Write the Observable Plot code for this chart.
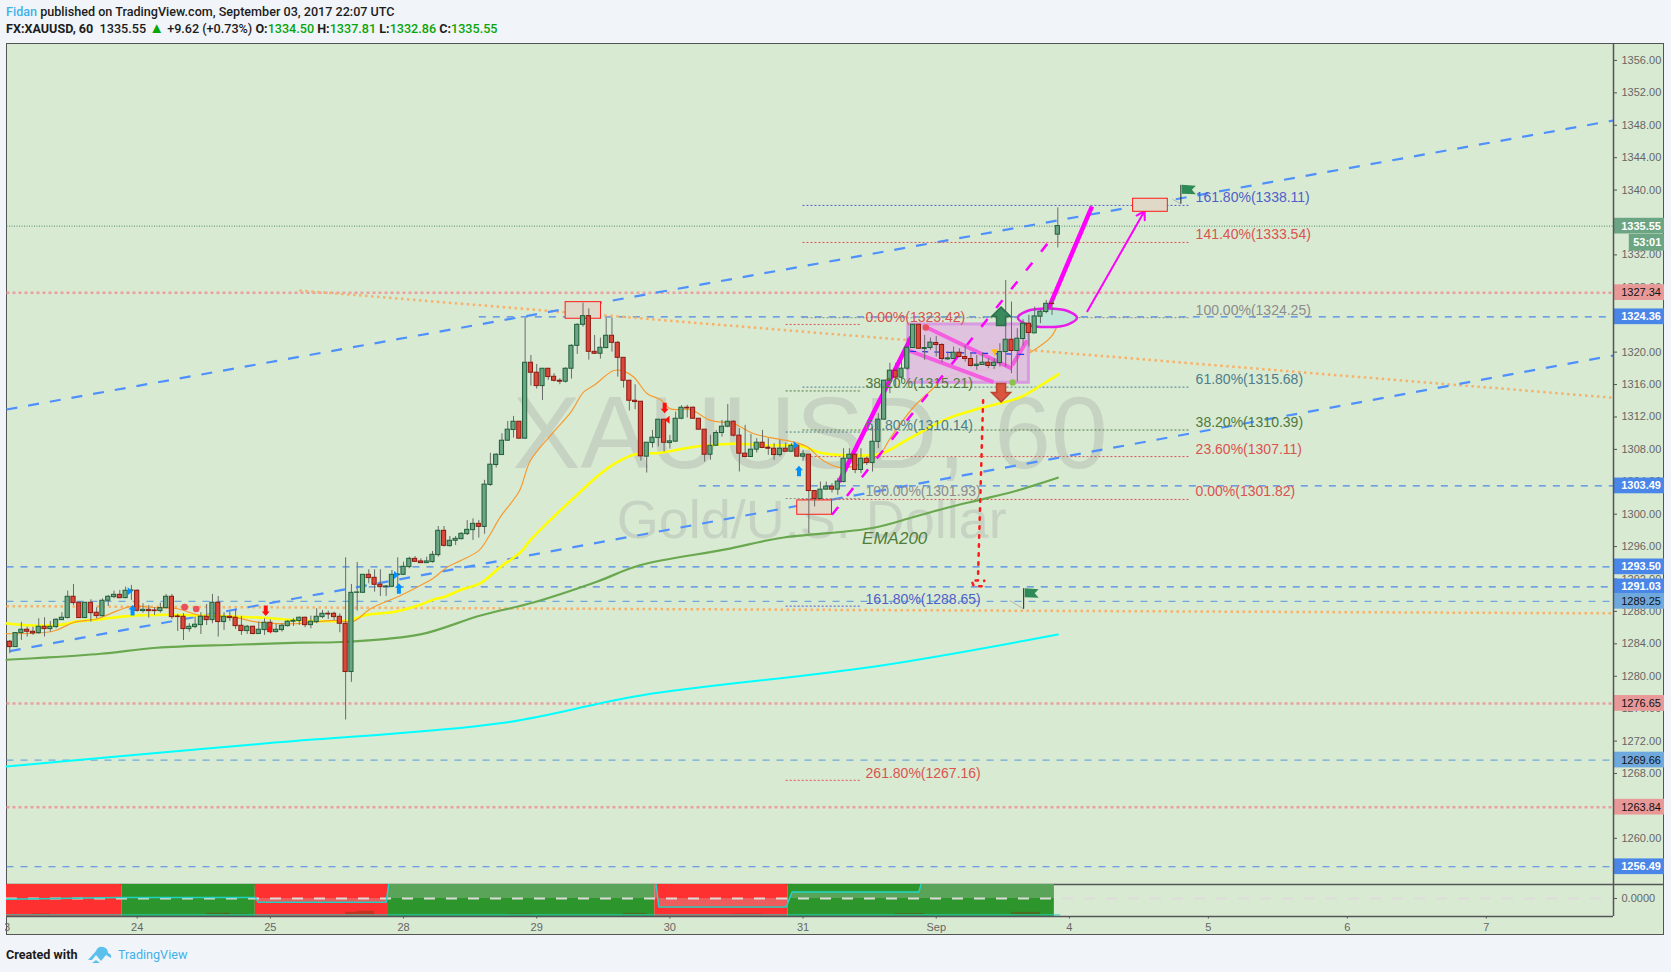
<!DOCTYPE html>
<html>
<head>
<meta charset="utf-8">
<script src="https://cdn.jsdelivr.net/npm/d3@7"></script>
<script src="https://cdn.jsdelivr.net/npm/@observablehq/plot@0.6"></script>
<style>
html,body{margin:0;padding:0;width:1671px;height:972px;overflow:hidden;background:#f1f4f8;font-family:"Roboto","Liberation Sans",sans-serif;}
.hd{position:absolute;left:6px;font-size:12.6px;font-weight:500;color:#1c1c1c;white-space:pre;line-height:16px;}
.g{color:#0aa50a}.b{color:#3fb2e8}
.tri{font-size:15px;line-height:12px}
#box{position:absolute;left:6px;top:43px;width:1658px;height:892px;background:#d9ead3;outline:1.5px solid #555;outline-offset:-1px;}
#main,#sub{position:absolute;left:0;}
#main{top:43px}#sub{top:884px}
#cover{position:absolute;left:0;top:917px;width:5.4px;height:18px;background:#f1f4f8;}
</style>
</head>
<body>
<div class="hd" style="top:4px"><span class="b">Fidan</span> published on TradingView.com, September 03, 2017 22:07 UTC</div>
<div class="hd" style="top:21px"><b>FX:XAUUSD, 60</b>  1335.55 <span class="g tri">▲</span> +9.62 (+0.73%) <b>O:</b><span class="g">1334.50</span> <b>H:</b><span class="g">1337.81</span> <b>L:</b><span class="g">1332.86</span> <b>C:</b><span class="g">1335.55</span></div>
<div id="box"></div>
<div id="main"></div>
<div id="sub"></div>
<div id="cover"></div>
<div class="hd" style="top:947px"><b>Created with</b></div>
<svg style="position:absolute;left:87px;top:945px" width="25" height="19" viewBox="0 0 25 19"><path d="M1 15 L9 6 Q11 1 16 2 Q21 3 21 8 Q25 9 24 13 L19 10 L14 16 L9 10 L5 15 Z" fill="#5cc0ec"/><path d="M9 15l4 3h-8z" fill="#5cc0ec"/></svg>
<div class="hd" style="top:947px;left:118px;color:#3fb2e8;font-weight:400">TradingView</div>
<script>
// Each row: open, high, low, close, one row per hourly bar
const candles = [
[1284.26,1284.42,1282.78,1283.60],[1283.60,1285.33,1283.60,1285.33],[1285.33,1286.64,1284.42,1285.74],[1285.74,1286.07,1284.84,1285.49],
[1285.49,1286.07,1285.04,1285.29],[1285.33,1287.10,1285.16,1286.11],[1286.11,1287.22,1284.84,1285.82],[1285.82,1286.77,1285.45,1286.11],
[1286.07,1287.10,1285.86,1286.97],[1286.93,1287.84,1286.89,1287.22],[1287.18,1290.51,1287.10,1289.81],[1289.81,1291.33,1288.74,1289.03],
[1289.07,1289.07,1287.18,1287.18],[1287.18,1289.07,1287.18,1289.07],[1289.07,1289.44,1286.69,1287.79],[1287.84,1288.45,1287.10,1287.42],
[1287.42,1289.56,1287.30,1289.32],[1289.32,1289.97,1288.62,1289.81],[1289.77,1290.51,1289.56,1290.05],[1290.05,1290.59,1289.56,1289.64],
[1289.64,1291.00,1289.56,1290.55],[1290.55,1291.21,1289.36,1290.59],[1290.55,1290.67,1287.92,1288.08],[1288.04,1288.95,1287.79,1288.20],
[1288.20,1288.74,1287.18,1288.04],[1288.12,1288.45,1287.51,1288.04],[1288.04,1289.03,1287.79,1288.41],[1288.41,1290.10,1288.33,1289.81],
[1289.81,1290.10,1287.01,1287.30],[1287.38,1287.63,1285.53,1287.30],[1287.34,1287.71,1284.42,1285.82],[1285.82,1286.48,1285.45,1286.11],
[1286.07,1287.30,1285.86,1286.36],[1286.31,1287.84,1285.16,1287.34],[1287.34,1288.86,1286.27,1286.93],[1286.93,1290.10,1286.48,1289.07],
[1289.07,1289.85,1284.84,1286.69],[1286.69,1287.84,1285.66,1287.34],[1287.34,1287.92,1286.77,1287.18],[1287.22,1288.25,1285.78,1286.19],
[1286.23,1287.38,1285.04,1285.58],[1285.58,1286.27,1285.16,1286.11],[1286.11,1286.19,1285.12,1285.21],[1285.21,1286.69,1285.16,1285.74],
[1285.70,1287.10,1285.04,1286.60],[1286.60,1286.97,1285.25,1285.45],[1285.45,1286.40,1285.33,1285.74],[1285.70,1286.48,1285.45,1286.23],
[1286.19,1286.89,1286.07,1286.73],[1286.73,1287.10,1286.15,1286.85],[1286.81,1287.30,1286.27,1287.22],[1287.22,1287.30,1285.99,1286.31],
[1286.31,1287.42,1285.86,1286.73],[1286.69,1288.33,1286.48,1287.34],[1287.30,1288.12,1287.10,1287.71],[1287.71,1288.04,1287.01,1287.63],
[1287.71,1287.92,1286.89,1287.30],[1287.34,1287.71,1285.37,1286.48],[1286.48,1294.62,1274.60,1280.52],[1280.52,1291.33,1279.25,1290.30],
[1290.30,1294.04,1288.04,1290.34],[1290.30,1292.52,1290.30,1292.52],[1292.52,1293.14,1291.41,1292.11],[1292.15,1293.14,1290.38,1291.29],
[1291.29,1293.14,1289.85,1291.00],[1291.00,1291.21,1289.85,1291.08],[1291.04,1293.06,1290.92,1292.52],[1292.48,1294.62,1291.00,1292.56],
[1292.52,1294.08,1292.44,1293.51],[1293.47,1294.70,1293.26,1294.49],[1294.49,1294.78,1294.08,1294.12],[1294.17,1294.50,1293.96,1293.96],
[1293.96,1294.70,1293.96,1294.17],[1294.09,1295.40,1293.96,1294.99],[1294.95,1298.48,1294.70,1297.95],[1297.95,1298.48,1295.94,1296.10],
[1296.06,1297.25,1295.94,1296.72],[1296.72,1297.25,1296.14,1296.96],[1296.92,1297.70,1296.84,1297.58],[1297.54,1299.22,1297.37,1298.07],
[1298.03,1299.43,1296.76,1298.81],[1298.81,1299.22,1297.05,1298.44],[1298.43,1304.18,1297.52,1303.65],[1303.61,1307.51,1303.44,1306.11],
[1306.07,1307.47,1305.70,1307.34],[1307.30,1309.93,1307.26,1309.07],[1309.07,1311.45,1309.03,1310.43],[1310.39,1312.07,1309.40,1311.41],
[1311.41,1311.41,1309.32,1309.32],[1309.32,1324.20,1309.32,1318.69],[1318.69,1319.59,1315.81,1317.46],[1317.46,1318.48,1315.44,1315.81],
[1315.81,1317.95,1314.04,1317.95],[1317.95,1317.95,1316.51,1316.92],[1316.96,1317.33,1316.31,1316.47],[1316.47,1316.72,1315.98,1316.35],
[1316.35,1318.07,1316.18,1317.95],[1317.95,1320.91,1316.67,1320.78],[1320.78,1323.50,1319.72,1323.37],[1323.37,1326.05,1323.09,1324.44],
[1324.44,1325.35,1319.02,1320.04],[1320.04,1322.06,1319.72,1319.80],[1319.80,1321.73,1319.14,1320.54],[1320.50,1324.20,1320.41,1322.02],
[1322.02,1324.20,1320.00,1321.15],[1321.15,1321.32,1316.92,1319.30],[1319.30,1319.30,1315.56,1316.47],[1316.47,1316.47,1312.73,1314.00],
[1314.00,1315.98,1312.89,1313.84],[1313.88,1313.88,1306.56,1307.14],[1307.10,1308.82,1305.08,1308.82],[1308.78,1310.34,1308.17,1309.44],
[1309.40,1311.66,1308.29,1311.66],[1311.66,1311.66,1307.67,1308.82],[1308.78,1309.73,1308.04,1308.99],[1308.95,1312.60,1308.91,1311.78],
[1311.78,1313.39,1311.66,1313.14],[1313.14,1313.43,1311.87,1313.06],[1313.14,1313.22,1311.74,1311.78],[1311.78,1311.78,1310.39,1310.43],
[1310.43,1310.43,1306.44,1307.34],[1307.34,1309.73,1306.65,1308.45],[1308.45,1310.34,1308.41,1310.02],[1310.02,1311.58,1309.52,1310.80],
[1310.80,1313.55,1310.67,1311.41],[1311.41,1311.50,1309.52,1309.69],[1309.69,1310.55,1305.21,1307.47],[1307.47,1310.96,1306.97,1307.06],
[1307.06,1309.85,1307.02,1307.96],[1307.96,1309.32,1307.55,1308.82],[1308.82,1310.34,1308.13,1308.17],[1308.21,1309.32,1307.26,1308.08],
[1308.08,1308.70,1306.65,1307.30],[1307.30,1309.11,1307.06,1308.08],[1308.08,1308.78,1307.67,1307.71],[1307.71,1308.70,1307.67,1308.45],
[1308.45,1308.49,1307.06,1307.10],[1307.10,1307.88,1306.52,1307.39],[1307.34,1307.34,1297.60,1302.86],[1302.86,1302.86,1300.89,1301.88],
[1301.88,1303.97,1301.88,1303.03],[1303.03,1303.97,1302.95,1303.40],[1303.40,1303.77,1302.62,1303.03],[1303.03,1304.39,1302.33,1304.02],
[1303.97,1308.08,1303.88,1306.84],[1306.84,1308.08,1306.43,1307.34],[1307.34,1307.34,1305.00,1305.45],[1305.45,1308.08,1305.00,1306.84],
[1306.84,1307.05,1306.02,1306.31],[1306.31,1310.75,1305.20,1308.94],[1308.92,1312.41,1308.09,1311.67],[1311.67,1316.52,1311.59,1316.48],
[1316.48,1318.62,1314.88,1317.71],[1317.71,1318.62,1315.70,1316.85],[1316.85,1319.40,1316.52,1317.96],[1317.96,1321.66,1317.75,1320.55],
[1320.51,1323.38,1320.42,1323.38],[1323.38,1323.38,1320.34,1320.42],[1320.38,1322.07,1318.99,1320.51],[1320.51,1321.74,1320.22,1321.17],
[1321.13,1321.95,1319.40,1320.88],[1320.88,1321.04,1318.66,1319.15],[1319.11,1320.01,1318.99,1319.23],[1319.15,1320.63,1319.07,1319.93],
[1319.93,1320.42,1319.31,1319.40],[1319.40,1320.84,1318.78,1319.15],[1319.15,1319.93,1318.16,1318.29],[1318.29,1319.60,1317.75,1318.45],
[1318.41,1319.89,1318.37,1318.70],[1318.70,1319.19,1317.96,1318.29],[1318.29,1319.19,1317.88,1318.70],[1318.66,1321.04,1318.16,1320.01],
[1320.01,1328.85,1318.16,1321.53],[1321.53,1326.18,1317.34,1320.14],[1320.14,1322.89,1316.31,1321.66],[1321.62,1324.00,1320.75,1323.51],
[1323.51,1324.53,1320.63,1322.36],[1322.32,1325.56,1322.27,1324.41],[1324.37,1325.15,1323.51,1324.99],[1324.95,1326.39,1324.74,1325.97],
[1325.97,1326.51,1324.53,1325.93],[1334.50,1337.81,1332.86,1335.55]
];

// Moving averages as [bar, price]
const yellowMA = [[-0.57,1286.52],[4.15,1286.27],[9.3,1286.4],[11,1286.68],[15.7,1287.05],[20.3,1287.42],[27.2,1287.59],[32.9,1287.5],[38.7,1287.38],[44.4,1287.18],[50.2,1286.89],[58.3,1286.89],[61.7,1287.59],[66.3,1287.92],[70.9,1288.82],[73.2,1289.48],[75,1289.77],[77.9,1290.67],[81.3,1291.5],[84.7,1293.47],[88.2,1295.3],[89.9,1296.8],[93.9,1299.66],[99.1,1303.15],[102,1305],[104.9,1306.44],[107.8,1307.35],[112.4,1307.59],[117,1308.17],[120.5,1308.5],[125,1308.7],[130.9,1308.5],[136.6,1308.41],[140,1307.59],[143.5,1307.3],[150.4,1307.46],[155,1309.2],[161.9,1311.8],[167.7,1313.1],[174.6,1314.47],[178.5,1316.1],[181.1,1317.26]];
const orangeMA = [[-0.57,1285.25],[7.6,1285.58],[11,1286.64],[15.1,1287.1],[20.8,1288.6],[25.4,1288.45],[29,1288.33],[32.9,1287.5],[38.7,1287.3],[42.7,1286.68],[49,1286.48],[56,1286.9],[59.4,1286.8],[62.3,1288.33],[67.5,1289.97],[70.9,1291.2],[73,1292.03],[75.6,1293.47],[77.9,1294.29],[81,1295.5],[82.7,1297.2],[84.7,1299.64],[88,1302.86],[89.9,1306.6],[93.9,1310.14],[96.9,1312.6],[99.1,1315.07],[100.9,1315.9],[104.3,1317.74],[106,1317.66],[107.8,1316.9],[110.1,1314.87],[112.4,1314.13],[114.1,1313],[117.6,1312.9],[121,1311.58],[125,1311.17],[128.5,1309.93],[135.4,1308.9],[137.8,1308.29],[140,1306.85],[143.5,1305.75],[148.6,1306.64],[150.4,1307.46],[152,1309.3],[156.1,1313.23],[158.5,1314.88],[161.9,1316.93],[167.7,1317.75],[171.1,1318.16],[176.3,1320],[179.8,1321.86],[181,1323.4]];
const greenMA = [[-0.57,1282.04],[5.9,1282.29],[15.7,1282.78],[25.4,1283.52],[38.7,1283.89],[50.2,1284.14],[58.3,1284.26],[70.9,1285.16],[81.3,1287.5],[90.4,1289.1],[101.5,1291.7],[108.8,1293.7],[123.6,1295.65],[133.1,1297.06],[149,1298.3],[156.1,1299.65],[161.9,1300.8],[167.7,1301.8],[173.4,1302.8],[181,1304.5]];
const cyanMA = [[-0.57,1268.87],[44.4,1271.73],[85,1274.22],[109,1277.63],[149.4,1281.2],[181,1285.15]];

// Horizontal levels: price, first bar, kind
const levels = [
 [1335.55,-0.57,"close"],[1327.34,-0.57,"res"],[1324.36,81,"sup"],[1303.49,119,"sup"],[1293.50,-0.57,"sup"],
 [1291.03,62,"sup"],[1289.25,-0.57,"pale"],[1276.65,-0.57,"res"],[1269.66,-0.57,"pale"],[1263.84,-0.57,"res"],[1256.49,-0.57,"sup"]
];
const priceTicks = [1260,1264,1268,1272,1276,1280,1284,1288,1292,1296,1300,1304,1308,1312,1316,1320,1324,1328,1332,1336,1340,1344,1348,1352,1356];

// Trend lines: x1, y1, x2, y2 in bars and prices
const blueTrends = [[-0.57,1312.92,276.97,1348.59],[0,1283.1,276.97,1319.59]];
const orangeTrends = [[-0.57,1288.65,276.97,1287.76],[50,1327.61,276.97,1314.37]];

// Fibonacci levels
const fibRight = [["161.80%(1338.11)",1338.11,"#4f5fc9"],["141.40%(1333.54)",1333.54,"#d9534f"],["100.00%(1324.25)",1324.25,"#8c8c8c"],["61.80%(1315.68)",1315.68,"#4d7d8a"],["38.20%(1310.39)",1310.39,"#4e7a3e"],["23.60%(1307.11)",1307.11,"#d9534f"],["0.00%(1301.82)",1301.82,"#d9534f"]];
const fibLeft = [["0.00%(1323.42)",1323.42,"#d9534f"],["38.20%(1315.21)",1315.21,"#4e7a3e"],["61.80%(1310.14)",1310.14,"#4d7d8a"],["100.00%(1301.93)",1301.93,"#8c8c8c"],["161.80%(1288.65)",1288.65,"#4f5fc9"],["261.80%(1267.16)",1267.16,"#d9534f"]];

// Day ticks on the time axis: bar, label
const dayTicks = [[-1,"23"],[22,"24"],[45,"25"],[68,"28"],[91,"29"],[114,"30"],[137,"31"],[160,"Sep"],[183,"4"],[207,"5"],[231,"6"],[255,"7"]];

// Drawn boxes: bar from, bar to, price low, price high
const redBoxes = [[96,102.1,1324.12,1326.17],[136,142,1299.93,1301.7],[194,200,1337.32,1338.93]];
const pinkBox = [[155.2,176,1316.22,1323.42]];
const pinkStrokes = [[158.2,1323.1,173.1,1317.96],[155.2,1320.22,169.9,1316.3],[173.1,1318.37,175.7,1321.45]];
const magentaThick = [[143.2,1303.97,155.7,1321.86],[178.9,1324.55,186.9,1338.0]];
const magentaDashed = [[142,1299.93,180,1334.1]];
const magentaArrow = [[186.1,1325.05,196,1337.44]];
const ellipsePts = [[174.1,1324.24],[175.6,1325.05],[179.2,1325.39],[182.8,1325.05],[184.3,1324.24],[182.8,1323.43],[179.2,1323.09],[175.6,1323.43]];
const redDotted = [[168.1,1314.06],[167.2,1291.83],[166.1,1291.8],[166.5,1291.1],[168.0,1291.1],[168.3,1291.8]];
const blueInner = [[155.5,1320.1,175.9,1319.7]];

// Markers
const blueUp = [[21.2,1288.12],[67.2,1290.79],[136.3,1305.31]];
const redDown = [[44.2,1288.1],[113.1,1313.13]];
const blueRight = [[20.7,1290.5],[66.7,1292.5],[135.7,1308.5]];
const redLeft = [[44.8,1285.77],[113.6,1311.65]];
const redDots = [[30.2,1288.53],[32.2,1288.3],[158.2,1323.05]];
const flags = [[202.25,1340.65,1338.32],[175.1,1290.87,1288.33]];
const flagTicks = [[200.8,1338.85,202.25,1338.3],[172.7,1289.35,175.1,1288.3]];

// Signal pane
const bandEdges = [[-0.57,19.4,"#ff3030"],[19.4,42.4,"#2c962c"],[42.4,65.4,"#ff3030"],[65.4,111.4,"#2c962c"],[111.4,134.4,"#ff3030"],[134.4,180.4,"#2c962c"]];
const signalStep = [[-0.57,-0.7],[19.4,1],[42.4,1],[42.9,-3.7],[65,-3.7],[65.6,20],[111.5,20],[112.1,-8.4],[134.1,-8.4],[135.1,6.6],[157,6.6],[157.7,20],[180.4,20]];
const histBars = [[4,7,0.9],[34,38,1.6],[37,41,0.8],[58,60,2.6],[60,63,3.6],[86,90,0.8],[106,110,1.5],[125,130,0.8],[153,158,1.3],[173,178,2.5]];

const fmt2 = d => d.toFixed(2);
const seg = (arr, o) => Plot.link(arr, {x1:d=>d[0], y1:d=>d[1], x2:d=>d[2], y2:d=>d[3], ...o});
const poly = (arr, o) => Plot.line(arr, {x:d=>d[0], y:d=>d[1], ...o});

const shape = pts => ({draw(c){pts.forEach((p,k)=>k?c.lineTo(p[0],p[1]):c.moveTo(p[0],p[1]));c.closePath();}});
const smallUp = shape([[0,-5.5],[4,-1],[2,-1],[2,5],[-2,5],[-2,-1],[-4,-1]]);
const smallDown = shape([[0,5.5],[4,1],[2,1],[2,-5],[-2,-5],[-2,1],[-4,1]]);
const bigUp = shape([[0,-9.5],[9.5,0],[4.5,0],[4.5,9],[-4.5,9],[-4.5,0],[-9.5,0]]);
const bigDown = shape([[0,9.5],[9.5,0],[4.5,0],[4.5,-9],[-4.5,-9],[-4.5,0],[-9.5,0]]);
const triRight = shape([[-2,-4],[3,0],[-2,4]]);
const triLeft = shape([[2,-4],[-3,0],[2,4]]);
const triDown = shape([[-3.5,-3],[3.5,-3],[0,3.5]]);
const flagShape = shape([[1,0],[15,1],[11,5],[15,9.5],[1,9]]);

const xOpt = {domain:[-0.57,276.97], range:[6,1613]};
const outerX = 285.78;
const font = '"Liberation Sans",Arial,sans-serif';

const levelStyle = {
  close:{stroke:"#4f8a6a",strokeWidth:1,strokeDasharray:"1,1.5"},
  res:{stroke:"#e9a0a0",strokeWidth:2.5,strokeDasharray:"3,3"},
  sup:{stroke:"#4a86e8",strokeWidth:1.2,strokeDasharray:"7,7"},
  pale:{stroke:"#6fa8dc",strokeWidth:1.2,strokeDasharray:"7,7"}
};
const pillStyle = {
  close:{fill:"#6ba583",text:"#fff",w:"bold"},
  res:{fill:"#e99898",text:"#111",w:"normal"},
  sup:{fill:"#4a86e8",text:"#fff",w:"bold"},
  pale:{fill:"#6fa8dc",text:"#111",w:"normal"}
};

const main = Plot.plot({
  width:1671, height:841, marginTop:0, marginBottom:0, marginLeft:6, marginRight:58,
  style:{background:"transparent",overflow:"visible",fontFamily:font,maxWidth:"none"},
  x:{...xOpt, axis:null},
  y:{domain:[1254.3,1358.09], range:[841,0], axis:null},
  marks:[
    Plot.text(["XAUUSD, 60"],{x:138.2,y:1309.71,text:d=>d,fontSize:102,fill:"#c6d3c3"}),
    Plot.text(["Gold/U.S. Dollar"],{x:138.5,y:1299.14,text:d=>d,fontSize:54,fill:"#c6d3c3"}),

    Plot.axisY({anchor:"right",ticks:priceTicks,tickFormat:fmt2,tickSize:3,tickPadding:5,fontSize:11,color:"#666",label:null,stroke:"#555"}),

    ...Object.keys(levelStyle).map(k=>seg(levels.filter(d=>d[2]===k).map(d=>[d[1],d[0],276.97,d[0]]),levelStyle[k])),
    seg(orangeTrends,{stroke:"#f6b26b",strokeWidth:2.5,strokeDasharray:"2.5,3.5"}),
    seg(blueTrends,{stroke:"#4d90fe",strokeWidth:2.2,strokeDasharray:"11,11"}),

    // fib guide lines
    ...fibRight.map(f=>seg([[136.9,f[1],203.9,f[1]]],{stroke:f[2],strokeWidth:1,strokeDasharray:"2,2"})),
    ...fibLeft.map(f=>seg([[134,f[1],146.8,f[1]]],{stroke:f[2],strokeWidth:1,strokeDasharray:"2,2"})),

    poly(cyanMA,{stroke:"#00ffff",strokeWidth:2,curve:"catmull-rom"}),
    poly(greenMA,{stroke:"#6aa84f",strokeWidth:2.2,curve:"catmull-rom"}),
    poly(yellowMA,{stroke:"#ffff00",strokeWidth:2.6,curve:"catmull-rom"}),
    poly(orangeMA,{stroke:"#f79a2e",strokeWidth:1.2,curve:"catmull-rom"}),

    Plot.rect(pinkBox,{x1:d=>d[0],x2:d=>d[1],y1:d=>d[2],y2:d=>d[3],fill:"#dfbfdf",fillOpacity:0.9,stroke:"#d89ae0",strokeWidth:3}),
    seg(magentaThick,{stroke:"#ff00ff",strokeWidth:4.5}),
    seg(magentaDashed,{stroke:"#ff00ff",strokeWidth:2.5,strokeDasharray:"10,14"}),
    seg(pinkStrokes,{stroke:"#f45fe0",strokeWidth:4}),
    Plot.arrow(magentaArrow,{x1:d=>d[0],y1:d=>d[1],x2:d=>d[2],y2:d=>d[3],stroke:"#ff00ff",strokeWidth:2,bend:0,headLength:7}),
    Plot.line(ellipsePts,{x:d=>d[0],y:d=>d[1],curve:"catmull-rom-closed",fill:"#bfe6d6",stroke:"#e81ce8",strokeWidth:2.5}),
    Plot.rect(redBoxes,{x1:d=>d[0],x2:d=>d[1],y1:d=>d[2],y2:d=>d[3],fill:"#e0d9c8",stroke:"#ff1a1a",strokeWidth:1}),
    seg(blueInner,{stroke:"#2233ee",strokeWidth:1.2,strokeDasharray:"6,6"}),

    // candles
    Plot.ruleX(candles,{x:(d,i)=>i,y1:d=>d[2],y2:d=>d[1],stroke:"#6a6a6a",strokeWidth:1}),
    Plot.rect(candles,{x1:(d,i)=>i-0.36,x2:(d,i)=>i+0.36,y1:d=>d[0],y2:d=>d[3],
      fill:d=>d[3]>=d[0]?"#6ba583":"#d9483b",stroke:d=>d[3]>=d[0]?"#1f5f3a":"#8b1a10",strokeWidth:1}),

    // vertical dotted projection
    poly(redDotted,{stroke:"#ff1a1a",strokeWidth:2.5,strokeDasharray:"2.5,6.5",curve:"linear"}),

    // markers
    Plot.dot(blueUp,{x:d=>d[0],y:d=>d[1],symbol:smallUp,r:1,fill:"#0090ff",stroke:"none"}),
    Plot.dot(redDown,{x:d=>d[0],y:d=>d[1],symbol:smallDown,r:1,fill:"#ff1010",stroke:"none"}),
    Plot.dot(blueRight,{x:d=>d[0],y:d=>d[1],symbol:triRight,r:1,fill:"#0090ff",stroke:"none"}),
    Plot.dot(redLeft,{x:d=>d[0],y:d=>d[1],symbol:triLeft,r:1,fill:"#ff1010",stroke:"none"}),
    Plot.dot(redDots,{x:d=>d[0],y:d=>d[1],r:3.3,fill:"#e8505b"}),
    Plot.dot([[173.2,1316.26]],{x:d=>d[0],y:d=>d[1],r:3.3,fill:"#8bc34a"}),
    Plot.dot([[170.1,1319.99]],{x:d=>d[0],y:d=>d[1],symbol:triDown,r:1,fill:"#ffc107",stroke:"none"}),
    Plot.dot([[171.2,1324.4]],{x:d=>d[0],y:d=>d[1],symbol:bigUp,r:1,fill:"#3a8a5e",stroke:"#2c6d4a"}),
    Plot.dot([[171.2,1315.02]],{x:d=>d[0],y:d=>d[1],symbol:bigDown,r:1,fill:"#d9553f",stroke:"#b84431"}),
    seg(flagTicks,{stroke:"#b5b5b5",strokeWidth:1}),
    Plot.link(flags,{x1:d=>d[0],x2:d=>d[0],y1:d=>d[1],y2:d=>d[2],stroke:"#222",strokeWidth:1}),
    Plot.dot(flags,{x:d=>d[0],y:d=>d[1],symbol:flagShape,r:1,fill:"#2e8b57",stroke:"none"}),

    // labels
    Plot.text(fibRight,{x:204.8,y:d=>d[1],text:d=>d[0],fill:d=>d[2],fontSize:14,textAnchor:"start",dy:-7.5}),
    Plot.text(fibLeft,{x:147.8,y:d=>d[1],text:d=>d[0],fill:d=>d[2],fontSize:14,textAnchor:"start",dy:-7}),
    Plot.text(["EMA200"],{x:147.2,y:1296.95,text:d=>d,fontSize:17,fontStyle:"italic",fill:"#4f7d3a",textAnchor:"start"}),

    // price scale tags
    Plot.rect(levels,{x1:276.97,x2:outerX,y1:d=>d[0]-0.97,y2:d=>d[0]+0.97,fill:d=>pillStyle[d[2]].fill}),
    Plot.text(levels.filter(d=>pillStyle[d[2]].w==="bold"),{x:278.3,y:d=>d[0],text:d=>fmt2(d[0]),textAnchor:"start",fontSize:11,fontWeight:"bold",fill:d=>pillStyle[d[2]].text}),
    Plot.text(levels.filter(d=>pillStyle[d[2]].w!=="bold"),{x:278.3,y:d=>d[0],text:d=>fmt2(d[0]),textAnchor:"start",fontSize:11,fill:d=>pillStyle[d[2]].text}),
    Plot.rect([1333.5],{x1:279.7,x2:outerX,y1:d=>d-1.03,y2:d=>d+1.03,fill:"#6ba583"}),
    Plot.text(["53:01"],{x:282.8,y:1333.5,text:d=>d,fontSize:11,fontWeight:"bold",fill:"#fff"}),

    Plot.ruleX([276.97],{stroke:"#555",strokeWidth:1.5}),
    Plot.ruleY([1254.3],{x1:-0.57,x2:outerX,stroke:"#555",strokeWidth:1.5})
  ]
});
document.getElementById("main").appendChild(main);

const sub = Plot.plot({
  width:1671, height:51, marginTop:0, marginBottom:19, marginLeft:6, marginRight:58,
  style:{background:"transparent",overflow:"visible",fontFamily:font,maxWidth:"none"},
  x:{...xOpt, axis:null},
  y:{domain:[-18,14], range:[32,0], axis:null},
  marks:[
    Plot.rect(bandEdges,{x1:d=>d[0],x2:d=>d[1],y1:-18,y2:14,fill:d=>d[2]}),
    Plot.rect(histBars,{x1:d=>d[0],x2:d=>d[1],y1:-16.4,y2:d=>-16.4+d[2],fill:"#7a3a14",fillOpacity:0.45}),
    Plot.areaY(signalStep,{x:d=>d[0],y1:0,y2:d=>d[1],fill:"#c8c8c8",fillOpacity:0.3,clip:"frame"}),
    Plot.ruleY([0],{stroke:"#dcdcd8",strokeWidth:2,strokeDasharray:"11,11"}),
    Plot.line(signalStep,{x:d=>d[0],y:d=>d[1],stroke:"#22d3c4",strokeWidth:1.5,clip:"frame"}),
    Plot.ruleY([-16.4],{x1:-0.57,x2:181.5,stroke:"#22d3c4",strokeWidth:1}),
    Plot.axisY({anchor:"right",ticks:[0],tickFormat:d=>d.toFixed(4),tickSize:3,tickPadding:5,fontSize:11,color:"#666",label:null,stroke:"#555"}),
    Plot.ruleX(dayTicks.filter(d=>d[0]>=0),{x:d=>d[0],y1:-18,y2:-20.5,stroke:"#555",strokeWidth:1}),
    Plot.text(dayTicks,{x:d=>d[0],y:-29,text:d=>d[1],fontSize:11,fill:"#666"}),
    Plot.ruleY([-18],{x1:-0.57,x2:276.97,stroke:"#555",strokeWidth:1.5}),
    Plot.ruleX([276.97],{y1:-18,y2:14,stroke:"#555",strokeWidth:1.5})
  ]
});
document.getElementById("sub").appendChild(sub);
</script>
</body>
</html>
